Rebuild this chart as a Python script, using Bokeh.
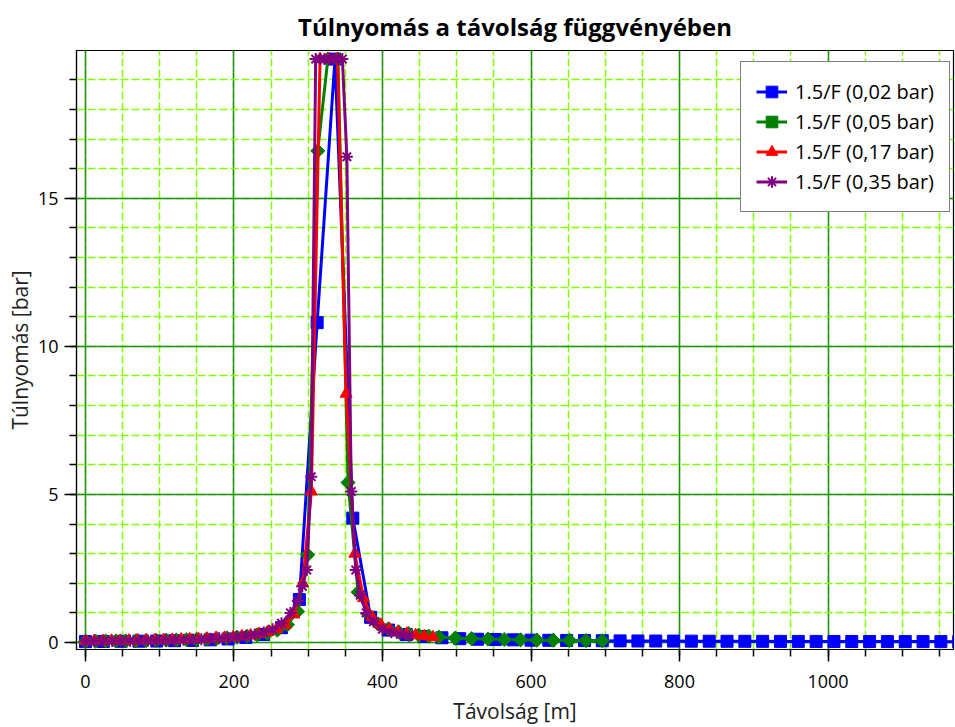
from bokeh.plotting import figure
from bokeh.models import Range1d, SingleIntervalTicker, Legend, LegendItem
from bokeh.embed import file_html
from bokeh.resources import INLINE

# ---- data ----
blue_x = [0, 24, 48, 72, 96, 120, 144, 168, 192, 216, 240, 264, 288, 312, 336, 360, 384, 408, 432, 456,
          480, 504, 528, 552, 576, 600, 624, 648, 672, 696, 720, 744, 768, 792, 816, 840, 864, 888, 912, 936,
          960, 984, 1008, 1032, 1056, 1080, 1104, 1128, 1152, 1176]
blue_y = [0.03, 0.035, 0.04, 0.045, 0.05, 0.06, 0.07, 0.09, 0.12, 0.17, 0.27, 0.5, 1.45, 10.8, 19.7, 4.2,
          0.85, 0.42, 0.27, 0.2, 0.16, 0.13, 0.11, 0.1, 0.09, 0.08, 0.075, 0.07, 0.065, 0.06, 0.055, 0.052,
          0.05, 0.048, 0.046, 0.044, 0.042, 0.04, 0.039, 0.038, 0.037, 0.036, 0.035, 0.034, 0.033, 0.032,
          0.031, 0.03, 0.03, 0.029]

green_x = [0, 13.6, 27.2, 40.8, 54.4, 68, 81.6, 95.2, 108.8, 122.4, 136, 149.6, 163.2, 176.8, 190.4, 204,
           217.6, 231.2, 244.8, 258.4, 272, 285.6, 299.2, 312.8, 326.4, 340, 353.6, 367.2, 380.8, 394.4, 408,
           421.6, 435.2, 448.8, 462.4, 476, 498, 520, 542, 564, 586, 608, 630, 652, 674, 696]
green_y = [0.04, 0.045, 0.05, 0.05, 0.055, 0.06, 0.065, 0.07, 0.08, 0.085, 0.095, 0.105, 0.12, 0.135, 0.155,
           0.18, 0.21, 0.26, 0.32, 0.42, 0.6, 1.05, 2.96, 16.6, 19.7, 19.7, 5.4, 1.7, 0.95, 0.62, 0.46, 0.36,
           0.3, 0.25, 0.21, 0.18, 0.15, 0.13, 0.115, 0.1, 0.09, 0.08, 0.075, 0.07, 0.065, 0.06]

red_x = [0, 11.7, 23.4, 35.1, 46.8, 58.5, 70.2, 81.9, 93.6, 105.3, 117, 128.7, 140.4, 152.1, 163.8, 175.5,
         187.2, 198.9, 210.6, 222.3, 234, 245.7, 257.4, 269.1, 280.8, 292.5, 304.2, 315.9, 327.6, 339.3, 351,
         362.7, 374.4, 386.1, 397.8, 409.5, 421.2, 432.9, 444.6, 456.3, 468]
red_y = [0.05, 0.05, 0.055, 0.06, 0.06, 0.065, 0.07, 0.075, 0.08, 0.085, 0.09, 0.1, 0.11, 0.12, 0.13, 0.15,
         0.16, 0.18, 0.21, 0.24, 0.29, 0.35, 0.45, 0.6, 0.95, 2.0, 5.1, 19.7, 19.7, 19.7, 8.4, 3.0, 1.5, 0.85,
         0.6, 0.45, 0.36, 0.3, 0.25, 0.21, 0.18]

purple_x = [0, 12, 24, 36, 48, 60, 72, 84, 96, 108, 120, 132, 144, 156, 168, 180, 192, 204, 216, 228, 240,
            252, 264, 276, 286, 292, 298, 304, 310, 316, 322, 328, 334, 340, 346, 352, 358, 364, 370, 378,
            388, 400, 412, 424, 436]
purple_y = [0.04, 0.045, 0.05, 0.05, 0.055, 0.06, 0.065, 0.07, 0.075, 0.08, 0.085, 0.09, 0.1, 0.11, 0.125,
            0.14, 0.16, 0.19, 0.22, 0.27, 0.34, 0.45, 0.65, 1.0, 1.4, 1.9, 2.45, 5.6, 19.7, 19.7, 19.7, 19.7,
            19.7, 19.7, 19.7, 16.4, 5.1, 2.45, 1.6, 1.0, 0.7, 0.45, 0.35, 0.28, 0.23]

series_labels = ["1.5/F (0,02 bar)", "1.5/F (0,05 bar)", "1.5/F (0,17 bar)", "1.5/F (0,35 bar)"]

title_text = "Túlnyomás a távolság függvényében"
x_label = "Távolság [m]"
y_label = "Túlnyomás [bar]"

FONT = "Open Sans"

p = figure(width=955, height=727, output_backend="svg", toolbar_location=None,
           x_range=Range1d(-12.1, 1169), y_range=Range1d(-0.236, 19.99),
           min_border_left=76, min_border_right=2, min_border_top=50, min_border_bottom=77,
           title=title_text, background_fill_color="white", border_fill_color="white")

p.title.text_font = FONT
p.title.text_font_size = "24px"
p.title.text_font_style = "bold"
p.title.align = "center"
p.title.text_color = "black"
p.title.standoff = 15

p.outline_line_color = "black"
p.outline_line_width = 1.2

p.xaxis.ticker = SingleIntervalTicker(interval=200, num_minor_ticks=4)
p.yaxis.ticker = SingleIntervalTicker(interval=5, num_minor_ticks=5)

for ax in (p.xaxis[0], p.yaxis[0]):
    ax.axis_line_color = "black"
    ax.axis_line_width = 1.2
    ax.major_tick_line_color = "black"
    ax.minor_tick_line_color = "black"
    ax.major_tick_line_width = 1.5
    ax.minor_tick_line_width = 1.5
    ax.major_tick_in = 0
    ax.major_tick_out = 12
    ax.minor_tick_in = 0
    ax.minor_tick_out = 7
    ax.major_label_text_font = FONT
    ax.major_label_text_font_size = "18px"
    ax.major_label_text_color = "black"
    ax.axis_label_text_font = FONT
    ax.axis_label_text_font_size = "21px"
    ax.axis_label_text_font_style = "normal"
    ax.axis_label_text_color = "#222222"

p.xaxis.axis_label = x_label
p.yaxis.axis_label = y_label
p.xaxis.major_label_standoff = 13
p.yaxis.major_label_standoff = 6
p.xaxis.axis_label_standoff = 6
p.yaxis.axis_label_standoff = 1

for g in (p.xgrid[0], p.ygrid[0]):
    g.grid_line_color = "#1f8f1f"
    g.grid_line_width = 1.5
    g.minor_grid_line_color = "#7fff00"
    g.minor_grid_line_width = 1.5
    g.minor_grid_line_dash = "8 3"

colors = ["#0000ff", "#008000", "#ff0000", "#800080"]
xs = [blue_x, green_x, red_x, purple_x]
ys = [blue_y, green_y, red_y, purple_y]

items = []
for i in range(4):
    ln = p.line(xs[i], ys[i], line_color=colors[i], line_width=3)
    if i == 0:
        sc = p.scatter(xs[i], ys[i], marker="square", size=12, fill_color=colors[i], line_color=colors[i])
    elif i == 1:
        sc = p.scatter(xs[i], ys[i], marker="square", angle=0.785398, size=10, fill_color=colors[i],
                       line_color=colors[i])
    elif i == 2:
        sc = p.scatter(xs[i], ys[i], marker="triangle", size=12, fill_color=colors[i], line_color=colors[i])
    else:
        sc = p.scatter(xs[i], ys[i], marker="asterisk", size=12, line_color=colors[i], line_width=2)
    items.append(LegendItem(label=series_labels[i], renderers=[ln, sc]))

legend = Legend(items=items, location=(664, 437))
legend.label_text_font = FONT
legend.label_text_font_size = "20px"
legend.label_text_color = "black"
legend.border_line_color = "black"
legend.border_line_width = 1.2
legend.background_fill_color = "white"
legend.background_fill_alpha = 1
legend.padding = 15
legend.spacing = 1
legend.label_height = 29
legend.glyph_height = 29
legend.glyph_width = 31
legend.label_standoff = 8
legend.margin = 0
p.add_layout(legend)

open("out.html", "w").write(file_html(p, INLINE))
